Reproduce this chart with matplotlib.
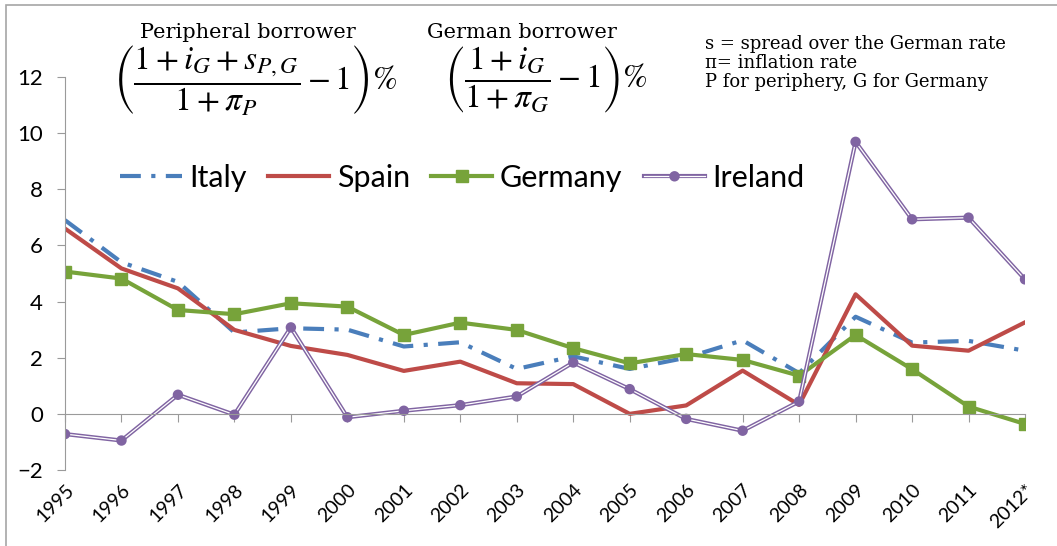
import matplotlib
matplotlib.use("Agg")
import matplotlib.pyplot as plt
import matplotlib.patheffects as pe
from matplotlib.patches import Rectangle

years = ["1995", "1996", "1997", "1998", "1999", "2000", "2001", "2002", "2003",
         "2004", "2005", "2006", "2007", "2008", "2009", "2010", "2011", "2012*"]

italy = [6.9, 5.4, 4.7, 2.9, 3.05, 3.0, 2.4, 2.55, 1.6,
         2.05, 1.6, 2.0, 2.62, 1.45, 3.46, 2.54, 2.6, 2.25]
spain = [6.6, 5.18, 4.47, 2.99, 2.42, 2.1, 1.53, 1.86, 1.09,
         1.06, 0.0, 0.3, 1.54, 0.32, 4.26, 2.43, 2.25, 3.26]
germany = [5.07, 4.82, 3.70, 3.55, 3.94, 3.82, 2.81, 3.25, 2.99,
           2.34, 1.80, 2.13, 1.92, 1.36, 2.81, 1.59, 0.26, -0.36]
ireland = [-0.72, -0.95, 0.68, -0.03, 3.08, -0.12, 0.11, 0.31, 0.62,
           1.83, 0.88, -0.18, -0.6, 0.44, 9.69, 6.93, 6.99, 4.79]

blue = "#4A7EBB"
red = "#BE4B48"
green = "#77A33A"
purple = "#8064A2"
grey = "#9A9A9A"

plt.rcParams["font.family"] = ["Lato", "DejaVu Sans"]
plt.rcParams["mathtext.fontset"] = "stix"

fig = plt.figure(figsize=(10.57, 5.46), dpi=100)
ax = fig.add_axes([65 / 1057, 1 - 470 / 546, 960 / 1057, 393 / 546])

x = list(range(len(years)))
ax.plot(x, italy, color=blue, lw=3, dashes=(5, 2.5, 1, 2.5), label="Italy")
ax.plot(x, spain, color=red, lw=3, label="Spain")
ax.plot(x, germany, color=green, lw=3, marker="s", ms=9, label="Germany")
ax.plot(x, ireland, color="white", lw=0.9, marker="o", ms=4.5,
        mfc=purple, mec=purple, label="Ireland",
        path_effects=[pe.Stroke(linewidth=3.0, foreground=purple), pe.Normal()])

ax.set_xlim(0, len(years) - 1)
ax.set_ylim(-2, 12)
ax.set_yticks(range(-2, 13, 2))
ax.tick_params(axis="y", direction="out", length=6, color=grey, labelsize=16, pad=10)

for s in ["top", "right"]:
    ax.spines[s].set_visible(False)
ax.spines["left"].set_color(grey)
ax.spines["bottom"].set_position(("data", 0))
ax.spines["bottom"].set_color(grey)
ax.set_xticks(x)
ax.tick_params(axis="x", direction="out", length=6, color=grey, labelbottom=False)

sec = ax.secondary_xaxis(0)
sec.set_xticks(x)
sec.set_xticklabels(years, rotation=45, ha="right", rotation_mode="anchor", fontsize=14)
sec.tick_params(length=0, pad=8)
sec.spines["bottom"].set_visible(False)

leg = ax.legend(loc="center left", bbox_to_anchor=(0.045, 0.743), ncol=4, frameon=False,
                fontsize=22, handlelength=2.0, handletextpad=0.25, columnspacing=0.7,
                borderaxespad=0)

fig.text(248 / 1057, 1 - 33 / 546, "Peripheral borrower", family="DejaVu Serif",
         fontsize=15, ha="center", va="center")
fig.text(522 / 1057, 1 - 33 / 546, "German borrower", family="DejaVu Serif",
         fontsize=15, ha="center", va="center")
fig.text(255 / 1057, 1 - 80 / 546, r"$\left(\dfrac{1+i_G+s_{P,G}}{1+\pi_P}-1\right)\%$",
         fontsize=24, ha="center", va="center")
fig.text(546 / 1057, 1 - 80 / 546, r"$\left(\dfrac{1+i_G}{1+\pi_G}-1\right)\%$",
         fontsize=24, ha="center", va="center")
fig.text(705 / 1057, 1 - 63 / 546,
         "s = spread over the German rate\n\u03c0= inflation rate\nP for periphery, G for Germany",
         family="DejaVu Serif", fontsize=13, ha="left", va="center", linespacing=1.05)

fig.patches.append(Rectangle((6 / 1057, -0.1), 1.2, 1.1 - 5 / 546, transform=fig.transFigure,
                             fill=False, edgecolor="#A6A6A6", lw=1.2))

fig.savefig("out.png", dpi=100)
